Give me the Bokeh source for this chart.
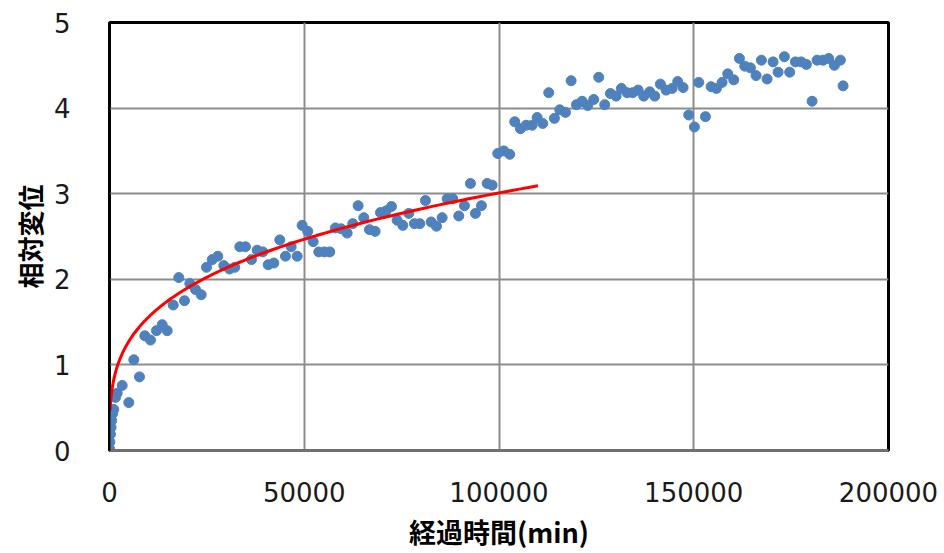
import numpy as np
from bokeh.plotting import figure
from bokeh.models import FixedTicker, ColumnDataSource
from bokeh.embed import file_html
from bokeh.resources import INLINE

# ---- data ----
elapsed_min = [0, 100, 250, 400, 550, 800, 1100, 1540, 1970, 3260, 4950, 6240, 7700,
               9060, 10520, 12070, 13530, 14810, 16350, 17790, 19250, 20620, 22080,
               23540, 24900, 26360, 27800, 29340, 30800, 32170, 33450, 34910, 36450,
               37910, 39350, 40740, 42180, 43720, 45180, 46640, 48180, 49460, 50900,
               52290, 53730, 55190, 56550, 58010, 59470, 61010, 62460, 63830, 65290,
               66750, 68200, 69570, 71030, 72400, 73850, 75300, 76840, 78300, 79660,
               81120, 82580, 83940, 85400, 86690, 88130, 89670, 91130, 92670, 93950,
               95490, 96950, 98230, 99680, 101220, 102760, 104040, 105500, 106970,
               108510, 109790, 111230, 112770, 114230, 115600, 117060, 118520, 119880,
               121340, 122780, 124320, 125600, 127140, 128610, 130070, 131430, 132890,
               134330, 135720, 137160, 138700, 139980, 141440, 142910, 144450, 145880,
               147270, 148710, 150170, 151280, 153000, 154460, 155820, 157280, 158720,
               160260, 161720, 163090, 164550, 166000, 167370, 168830, 170370, 171650,
               173270, 174630, 176100, 177560, 178920, 180380, 181660, 183200, 184650,
               186110, 187650, 188340]
relative_disp = [0.02, 0.10, 0.19, 0.27, 0.35, 0.43, 0.48, 0.62, 0.67, 0.76, 0.56, 1.06, 0.86,
                 1.34, 1.29, 1.40, 1.47, 1.40, 1.70, 2.02, 1.75, 1.95, 1.88,
                 1.82, 2.14, 2.23, 2.27, 2.16, 2.12, 2.14, 2.38, 2.38, 2.23,
                 2.34, 2.32, 2.17, 2.19, 2.46, 2.27, 2.38, 2.27, 2.63, 2.56,
                 2.44, 2.32, 2.32, 2.32, 2.60, 2.59, 2.54, 2.65, 2.86, 2.72,
                 2.58, 2.56, 2.78, 2.80, 2.85, 2.69, 2.63, 2.77, 2.65, 2.65,
                 2.92, 2.67, 2.62, 2.72, 2.94, 2.94, 2.74, 2.86, 3.12, 2.77,
                 2.86, 3.12, 3.10, 3.47, 3.50, 3.46, 3.84, 3.76, 3.80,
                 3.80, 3.89, 3.82, 4.18, 3.88, 3.98, 3.95, 4.32, 4.04,
                 4.08, 4.03, 4.10, 4.36, 4.04, 4.17, 4.14, 4.23, 4.18,
                 4.18, 4.21, 4.14, 4.19, 4.14, 4.28, 4.21, 4.23, 4.31,
                 4.24, 3.92, 3.78, 4.30, 3.90, 4.25, 4.23, 4.30, 4.40,
                 4.33, 4.58, 4.49, 4.47, 4.38, 4.56, 4.34, 4.54, 4.42,
                 4.60, 4.42, 4.54, 4.54, 4.51, 4.08, 4.56, 4.56, 4.58,
                 4.50, 4.56, 4.26]

# power trendline (y = a * x^b)
trend_coef = 0.1118
trend_exp = 0.286
trend_x_start = 150
trend_x_end = 110000

x_ticks = [0, 50000, 100000, 150000, 200000]
x_tick_labels = ["0", "50000", "100000", "150000", "200000"]
y_ticks = [0, 1, 2, 3, 4, 5]
y_tick_labels = ["0", "1", "2", "3", "4", "5"]

x_title = "経過時間(min)"
y_title = "相対変位"

# ---- figure ----
p = figure(width=944, height=553, output_backend="svg", toolbar_location=None,
           x_range=(0, 200000), y_range=(0, 5),
           min_border_left=109, min_border_right=56, min_border_top=22, min_border_bottom=103)
p.background_fill_color = "white"
p.border_fill_color = "white"
p.outline_line_color = "black"
p.outline_line_width = 3

p.xgrid.ticker = FixedTicker(ticks=x_ticks)
p.ygrid.ticker = FixedTicker(ticks=y_ticks)
for g in (p.xgrid, p.ygrid):
    g.grid_line_color = "#8c8c8c"
    g.grid_line_width = 2

p.xaxis.ticker = FixedTicker(ticks=x_ticks)
p.yaxis.ticker = FixedTicker(ticks=y_ticks)
p.xaxis.major_label_overrides = dict(zip(x_ticks, x_tick_labels))
p.yaxis.major_label_overrides = dict(zip(y_ticks, y_tick_labels))

for ax in (p.xaxis, p.yaxis):
    ax.major_tick_line_color = None
    ax.minor_tick_line_color = None
    ax.major_label_text_font = "DejaVu Sans"
    ax.major_label_text_font_size = "26px"
    ax.major_label_text_color = "#1a1a1a"
    ax.axis_label_text_font = "Noto Sans CJK JP"
    ax.axis_label_text_font_style = "bold"
    ax.axis_label_text_color = "black"

p.xaxis.axis_label_text_font_size = "27px"
p.yaxis.axis_label_text_font_size = "26px"
p.xaxis.axis_line_color = "#707070"
p.xaxis.axis_line_width = 3
p.yaxis.axis_line_color = "black"
p.yaxis.axis_line_width = 2
p.xaxis.major_label_standoff = 25
p.yaxis.major_label_standoff = 33
p.xaxis.axis_label = x_title
p.yaxis.axis_label = y_title
p.xaxis.axis_label_standoff = 7
p.yaxis.axis_label_standoff = 3

src = ColumnDataSource(data=dict(x=elapsed_min, y=relative_disp))
p.scatter("x", "y", source=src, size=10, color="#4F81BD", line_color="#4F81BD")

tx = np.geomspace(trend_x_start, trend_x_end, 300)
ty = trend_coef * tx ** trend_exp
p.line(tx, ty, line_color="#FF0000", line_width=3)

open("out.html", "w").write(file_html(p, INLINE))
